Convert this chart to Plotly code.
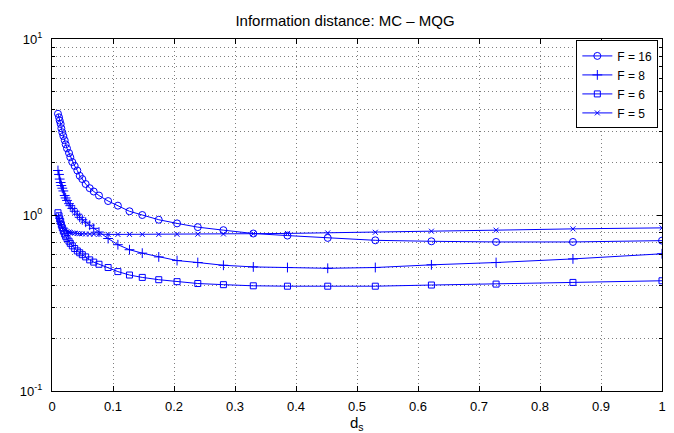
import plotly.graph_objects as go

ds = [0.0098, 0.0115, 0.0126, 0.0142, 0.0153, 0.0169, 0.0186, 0.0208, 0.0224, 0.0246,
      0.0279, 0.0300, 0.0333, 0.0372, 0.0415, 0.0454, 0.0497, 0.0552, 0.0618, 0.0684,
      0.0770, 0.0920, 0.108, 0.127, 0.148, 0.175, 0.205, 0.239, 0.281, 0.330,
      0.386, 0.452, 0.530, 0.622, 0.728, 0.854, 1.0]

f16 = [3.76, 3.59, 3.44, 3.29, 3.11, 2.95, 2.81, 2.66, 2.52, 2.39,
       2.25, 2.13, 2.00, 1.90, 1.79, 1.67, 1.60, 1.50, 1.42, 1.36,
       1.29, 1.20, 1.13, 1.05, 1.00, 0.94, 0.896, 0.853, 0.82, 0.785,
       0.764, 0.741, 0.718, 0.709, 0.703, 0.703, 0.715]

f8 = [1.79, 1.70, 1.60, 1.53, 1.47, 1.42, 1.37, 1.29, 1.25, 1.21,
      1.16, 1.13, 1.09, 1.05, 1.01, 0.97, 0.94, 0.91, 0.875, 0.84,
      0.80, 0.735, 0.678, 0.635, 0.607, 0.578, 0.551, 0.537, 0.518, 0.507,
      0.503, 0.498, 0.503, 0.521, 0.537, 0.563, 0.602]

f6 = [1.03, 0.99, 0.95, 0.92, 0.88, 0.845, 0.81, 0.78, 0.757, 0.735,
      0.71, 0.69, 0.668, 0.645, 0.625, 0.61, 0.595, 0.578, 0.556, 0.54,
      0.525, 0.503, 0.477, 0.456, 0.442, 0.429, 0.418, 0.408, 0.402, 0.396,
      0.394, 0.394, 0.394, 0.400, 0.405, 0.414, 0.423]

f5 = [0.98, 0.94, 0.91, 0.885, 0.865, 0.85, 0.835, 0.825, 0.815, 0.805,
      0.80, 0.795, 0.79, 0.788, 0.785, 0.783, 0.782, 0.78, 0.779, 0.778,
      0.777, 0.776, 0.776, 0.776, 0.776, 0.776, 0.777, 0.778, 0.78, 0.783,
      0.786, 0.791, 0.798, 0.809, 0.820, 0.834, 0.845]

series = [("F = 16", f16, "circle-open", 7),
          ("F = 8", f8, "cross-thin-open", 7),
          ("F = 6", f6, "square-open", 6),
          ("F = 5", f5, "x-thin-open", 5)]

x_ticks = [0, 0.1, 0.2, 0.3, 0.4, 0.5, 0.6, 0.7, 0.8, 0.9, 1]
x_ticktext = ["0", "0.1", "0.2", "0.3", "0.4", "0.5", "0.6", "0.7", "0.8", "0.9", "1"]
y_ticks = [0.1, 1, 10]
y_ticktext = ["10<sup>-1</sup>", "10<sup>0</sup>", "10<sup>1</sup>"]
y_minor = [m * 10 ** e for e in (-1, 0) for m in range(2, 10)]
x_title = "d<sub>s</sub>"

BLUE = "#0000ff"
fig = go.Figure()
for name, vals, sym, sz in series:
    fig.add_trace(go.Scatter(
        x=ds, y=vals, name=name, mode="lines+markers",
        line=dict(color=BLUE, width=1),
        marker=dict(symbol=sym, size=sz, color=BLUE, line=dict(color=BLUE, width=1)),
    ))

font = "Liberation Sans, Arial, Helvetica, sans-serif"
GRID = "#7f7f7f"
DASH = "1px,3px"
fig.update_layout(
    width=674, height=433,
    margin=dict(l=44, r=20, t=31, b=50),
    plot_bgcolor="white", paper_bgcolor="white",
    font=dict(family=font, size=13, color="black"),
    title=dict(text="Information distance: MC \u2013 MQG", x=0.5, xanchor="center",
               y=1 - 13 / 433, yanchor="middle", font=dict(size=15)),
    showlegend=True,
    legend=dict(x=0.994, y=0.996, xanchor="right", yanchor="top",
                bgcolor="white", bordercolor="black", borderwidth=1,
                font=dict(size=12), tracegroupgap=0, itemwidth=30),
    annotations=[dict(text=x_title, xref="paper", yref="paper", x=0.5, y=-0.06,
                      xanchor="center", yanchor="top", showarrow=False,
                      font=dict(size=15))],
)
fig.update_xaxes(
    range=[0, 1], tickmode="array", tickvals=x_ticks, ticktext=x_ticktext,
    showline=True, linecolor="black", linewidth=1, mirror="ticks",
    ticks="inside", ticklen=5, tickcolor="black", ticklabelstandoff=3,
    showgrid=True, gridcolor=GRID, griddash=DASH, gridwidth=1,
    zeroline=False, automargin=False,
)
fig.update_yaxes(
    type="log", range=[-1, 1], tickmode="array", tickvals=y_ticks, ticktext=y_ticktext,
    showline=True, linecolor="black", linewidth=1, mirror="ticks",
    ticks="inside", ticklen=5, tickcolor="black", ticklabelstandoff=6,
    showgrid=True, gridcolor=GRID, griddash=DASH, gridwidth=1,
    zeroline=False, automargin=False,
    minor=dict(tickmode="array", tickvals=y_minor, ticks="inside", ticklen=3,
               tickcolor="black", showgrid=True, gridcolor=GRID,
               griddash=DASH, gridwidth=1),
)
fig.write_html("out.html")
